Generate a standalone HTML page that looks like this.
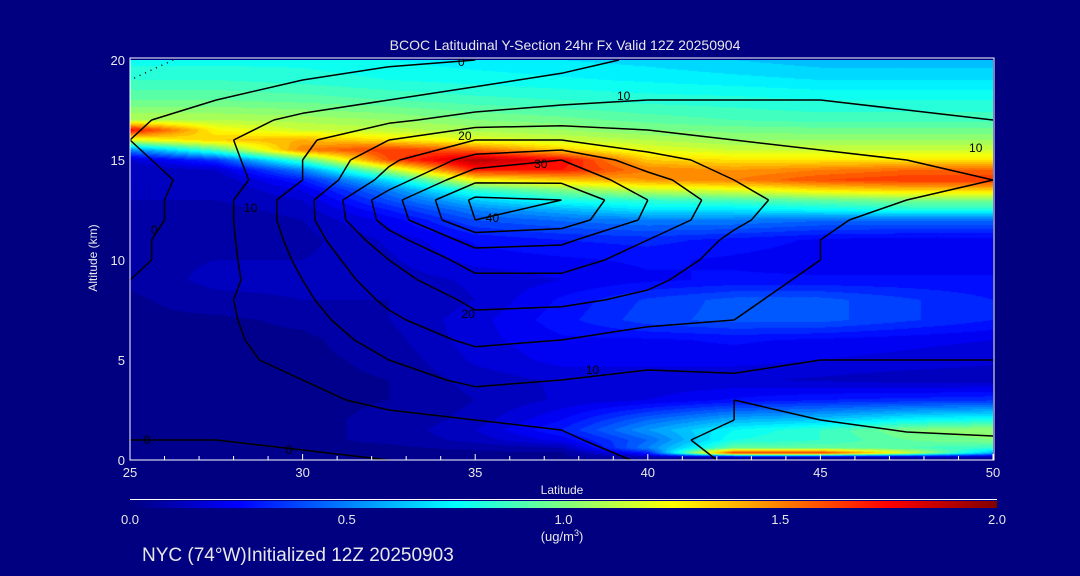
<!DOCTYPE html>
<html><head><meta charset="utf-8">
<style>
html,body{margin:0;padding:0;background:#000080;width:1080px;height:576px;overflow:hidden}
#wrap{position:relative;width:1080px;height:576px;font-family:"Liberation Sans",sans-serif;color:#e8e8e8}
svg text{font-family:"Liberation Sans",sans-serif;fill:#e8e8e8}
canvas{position:absolute;left:130px;top:60px}
</style></head>
<body>
<div id="wrap">
<canvas id="field" width="863" height="400"></canvas>
<svg id="ov" width="1080" height="576" style="position:absolute;left:0;top:0">
<defs><linearGradient id="cb" x1="0" x2="1" y1="0" y2="0">
<stop offset="0" stop-color="#000080"/><stop offset="0.125" stop-color="#0000ff"/><stop offset="0.375" stop-color="#00ffff"/><stop offset="0.625" stop-color="#ffff00"/><stop offset="0.875" stop-color="#ff0000"/><stop offset="1" stop-color="#800000"/></linearGradient></defs>
<text x="565" y="50" text-anchor="middle" font-size="14">BCOC Latitudinal Y-Section 24hr  Fx Valid 12Z 20250904</text>
<g id="contours"></g>
<g id="axes"></g>
<text x="0" y="0" transform="translate(97,258) rotate(-90)" text-anchor="middle" font-size="12">Altitude (km)</text>
<text x="562" y="494" text-anchor="middle" font-size="12">Latitude</text>
<line x1="130" y1="499.5" x2="997" y2="499.5" stroke="#fff" stroke-width="1"/>
<rect x="130" y="501" width="867" height="7" fill="url(#cb)"/>
<g id="cblabels" font-size="13"></g>
<text x="562" y="541" text-anchor="middle" font-size="13">(ug/m<tspan dy="-5" font-size="9">3</tspan><tspan dy="5">)</tspan></text>
<text x="142" y="561" font-size="19">NYC (74°W)Initialized 12Z 20250903</text>
</svg>
</div>
<script>
// ---- data ----
const lats = [25,27.5,30,32.5,35,37.5,40,42.5,45,47.5,50];
const concAlts = [20,19,18,17,16.5,16,15.5,15,14.5,14,13.5,13,12.5,12,11,10,9,8,7,6,5,4,3,2,1.5,1,0.6,0.35,0.15,0];
const conc = [
[.78,.78,.78,.75,.72,.70,.68,.65,.62,.62,.62],
[.85,.85,.83,.80,.78,.76,.74,.72,.70,.70,.70],
[.95,.95,.93,.90,.87,.85,.83,.82,.80,.80,.80],
[1.10,1.10,1.08,1.05,1.0,.97,.93,.90,.88,.88,.88],
[1.75,1.25,1.15,1.12,1.08,1.05,1.0,.98,.97,.97,.97],
[1.2,1.35,1.4,1.3,1.2,1.15,1.1,1.05,1.05,1.05,1.05],
[.5,.9,1.5,1.65,1.55,1.35,1.2,1.15,1.15,1.15,1.15],
[.15,.35,.9,1.6,1.9,1.75,1.35,1.3,1.3,1.3,1.3],
[.1,.15,.5,1.1,1.7,1.7,1.5,1.45,1.5,1.55,1.55],
[.1,.1,.3,.7,1.25,1.35,1.45,1.5,1.6,1.65,1.65],
[.1,.1,.2,.5,.85,1.0,1.15,1.2,1.3,1.35,1.35],
[.1,.1,.15,.4,.65,.8,.85,.9,.95,1.0,1.0],
[.08,.08,.12,.3,.5,.6,.7,.7,.75,.8,.8],
[.06,.06,.1,.22,.4,.46,.5,.5,.46,.46,.46],
[.06,.06,.08,.16,.26,.3,.32,.28,.24,.22,.22],
[.08,.1,.1,.14,.22,.24,.26,.24,.22,.22,.22],
[.06,.12,.12,.12,.16,.2,.24,.26,.26,.26,.26],
[.04,.08,.1,.1,.15,.26,.36,.42,.42,.36,.3],
[.04,.04,.06,.1,.18,.28,.38,.42,.42,.36,.3],
[.04,.04,.04,.08,.18,.24,.24,.26,.24,.22,.2],
[.04,.04,.04,.06,.16,.22,.22,.22,.2,.18,.16],
[.04,.04,.04,.05,.12,.16,.16,.16,.14,.12,.12],
[.04,.04,.04,.05,.1,.16,.2,.26,.3,.32,.34],
[.04,.04,.04,.06,.12,.25,.45,.6,.65,.75,.8],
[.04,.04,.04,.06,.15,.3,.55,.75,.85,1.0,1.05],
[.04,.04,.04,.06,.12,.22,.45,.8,.85,.95,1.0],
[.04,.04,.04,.04,.06,.1,.5,.95,.95,.9,.85],
[.04,.04,.04,.04,.04,.04,.3,1.7,1.7,1.2,.6],
[.04,.04,.04,.04,.04,.04,.1,.1,.1,.1,.1],
[.04,.04,.04,.04,.04,.04,.04,.04,.04,.04,.04]];
const windAlts = [20,19,18,17,16,15,14,13,12,11,10,9,8,7,6,5,4,3,2,1,0];
const wind = [
[-6,-4,-2,-1,0,3,6,7,7,7,7],
[-5,-3,0,2,4,6,8,8,8,8,8],
[-3,0,3,5,7,9,10,10,10,9,9],
[-1,3,6,9,12,13,13,12,12,11,10],
[0,4,9,15,20,20,17,15,14,13,11],
[-1,3,10,19,27,30,22,18,16,15,14],
[-2,2,10,22,34,34,27,20,17,16,15],
[-2,3,13,28,41,40,30,22,17,15,14],
[-2,3,13,27,40,38,29,21,16,13,11],
[-1,3,12,23,32,31,25,19,15,12,10],
[-1,3,11,20,27,27,23,18,15,13,11],
[0,3,10,18,24,24,21,17,14,13,12],
[0,4,9,16,21,21,19,16,13,12,11],
[1,4,8,14,19,18,16,15,13,12,11],
[2,4,7,12,16,15,13,14,12,12,11],
[3,4,6,10,13,12,11,12,10,10,10],
[3,4,5,8,11,10,9,9,8,8,8],
[2,3,4,6,8,8,8,10,7,6,6],
[1,2,3,4,5,6,7,10,10,7,6],
[0,0,1,2,2,4,8,12,12,12,11],
[-1,-1,-1,0,0,1,6,11,12,14,14]];
const contourLevels = [-5,0,5,10,15,20,25,30,35,40];
const labelText = ["0","0","10","20","30","40","10","20","10","10","0","0"];
const labelLat = [34.6,25.7,28.5,34.7,36.9,35.5,39.3,34.8,38.4,49.5,25.5,29.6];
const labelAlt = [19.9,11.5,12.6,16.2,14.8,12.1,18.2,7.3,4.5,15.6,1.0,0.5];
const xTicks = [25,30,35,40,45,50];
const yTicks = [0,5,10,15,20];
const cbTicks = [0.0,0.5,1.0,1.5,2.0];

// ---- axes ----
const X0=130,X1=993,Y0=460,Y1=60;
function xs(lat){return X0+(lat-25)/25*(X1-X0);}
function ys(a){return Y0-(a/20)*(Y0-Y1);}
function cbx(v){return 130+v/2*867;}
const NS="http://www.w3.org/2000/svg";
function mk(tag,attrs,parent){const e=document.createElementNS(NS,tag);for(const k in attrs)e.setAttribute(k,attrs[k]);parent.appendChild(e);return e;}

// ---- field ----
function jet(t){t=Math.max(0,Math.min(1,t));const c=v=>Math.round(255*Math.max(0,Math.min(1,v)));
return [c(1.5-Math.abs(4*t-3)),c(1.5-Math.abs(4*t-2)),c(1.5-Math.abs(4*t-1))];}
function interp(grid,alts,lat,alt){
 let fi=(lat-25)/2.5; let i=Math.min(lats.length-2,Math.max(0,Math.floor(fi))); let u=Math.min(1,Math.max(0,fi-i));
 let j=0; while(j<alts.length-2 && alts[j+1]>alt) j++;
 let v=(alts[j]-alt)/(alts[j]-alts[j+1]); v=Math.min(1,Math.max(0,v));
 const a=grid[j][i],b=grid[j][i+1],c=grid[j+1][i],d=grid[j+1][i+1];
 return (a*(1-u)+b*u)*(1-v)+(c*(1-u)+d*u)*v;}
(function(){
 const cv=document.getElementById('field');const ctx=cv.getContext('2d');
 const W=cv.width,H=cv.height;const img=ctx.createImageData(W,H);
 for(let py=0;py<H;py++){const alt=20-(py+0.5)/H*20;
  for(let px=0;px<W;px++){const lat=25+(px+0.5)/W*25;
   let v=interp(conc,concAlts,lat,alt); v=Math.floor(v/0.05)*0.05+0.025;
   const c=jet(v/2);const k=(py*W+px)*4;img.data[k]=c[0];img.data[k+1]=c[1];img.data[k+2]=c[2];img.data[k+3]=255;}}
 ctx.putImageData(img,0,0);})();

// ---- contours (marching squares) ----
(function(){
 const g=document.getElementById('contours');
 for(const lev of contourLevels){
  let d="";
  for(let j=0;j<windAlts.length-1;j++)for(let i=0;i<lats.length-1;i++){
   const P=[[lats[i],windAlts[j],wind[j][i]],[lats[i+1],windAlts[j],wind[j][i+1]],[lats[i+1],windAlts[j+1],wind[j+1][i+1]],[lats[i],windAlts[j+1],wind[j+1][i]]];
   const pts=[];
   for(let e=0;e<4;e++){const A=P[e],B=P[(e+1)%4];
    if((A[2]<lev)!==(B[2]<lev)){const t=(lev-A[2])/(B[2]-A[2]);pts.push([A[0]+t*(B[0]-A[0]),A[1]+t*(B[1]-A[1])]);}}
   for(let k=0;k+1<pts.length;k+=2){d+="M"+xs(pts[k][0]).toFixed(1)+","+ys(pts[k][1]).toFixed(1)+"L"+xs(pts[k+1][0]).toFixed(1)+","+ys(pts[k+1][1]).toFixed(1);}
  }
  const p=mk('path',{d:d,stroke:'#000',fill:'none','stroke-width':'1.5'},g);
  if(lev<0)p.setAttribute('stroke-dasharray','1 5');
  
  
 }
 for(let k=0;k<labelText.length;k++){
  const t=mk('text',{x:xs(labelLat[k]),y:ys(labelAlt[k])+4,'text-anchor':'middle','font-size':'12'},g);
  t.style.fill='#000';t.textContent=labelText[k];
  
  
 }
})();

// ---- axes drawing ----
(function(){
 const g=document.getElementById('axes');
 const fr=mk('rect',{x:X0,y:Y1-2,width:X1-X0+1,height:Y0-Y1+2,fill:'none',stroke:'#fff','stroke-width':'1'},g);
 
 
 for(let l=25;l<=50;l++){const tk=mk('line',{x1:xs(l),x2:xs(l),y1:Y0,y2:Y0-(l%5===0?6:4),stroke:'#fff'},g);
  
  }
 for(const v of xTicks){const t=mk('text',{x:xs(v),y:477,'text-anchor':'middle','font-size':'13'},g);t.textContent=v;
  
  }
 for(const v of yTicks){const t=mk('text',{x:125,y:ys(v)+5,'text-anchor':'end','font-size':'13'},g);t.textContent=v;
  
  }
 const cg=document.getElementById('cblabels');
 for(const v of cbTicks){const t=mk('text',{x:cbx(v),y:524,'text-anchor':'middle','font-size':'13'},cg);t.textContent=v.toFixed(1);
  
  }
})();
</script>
</body></html>
